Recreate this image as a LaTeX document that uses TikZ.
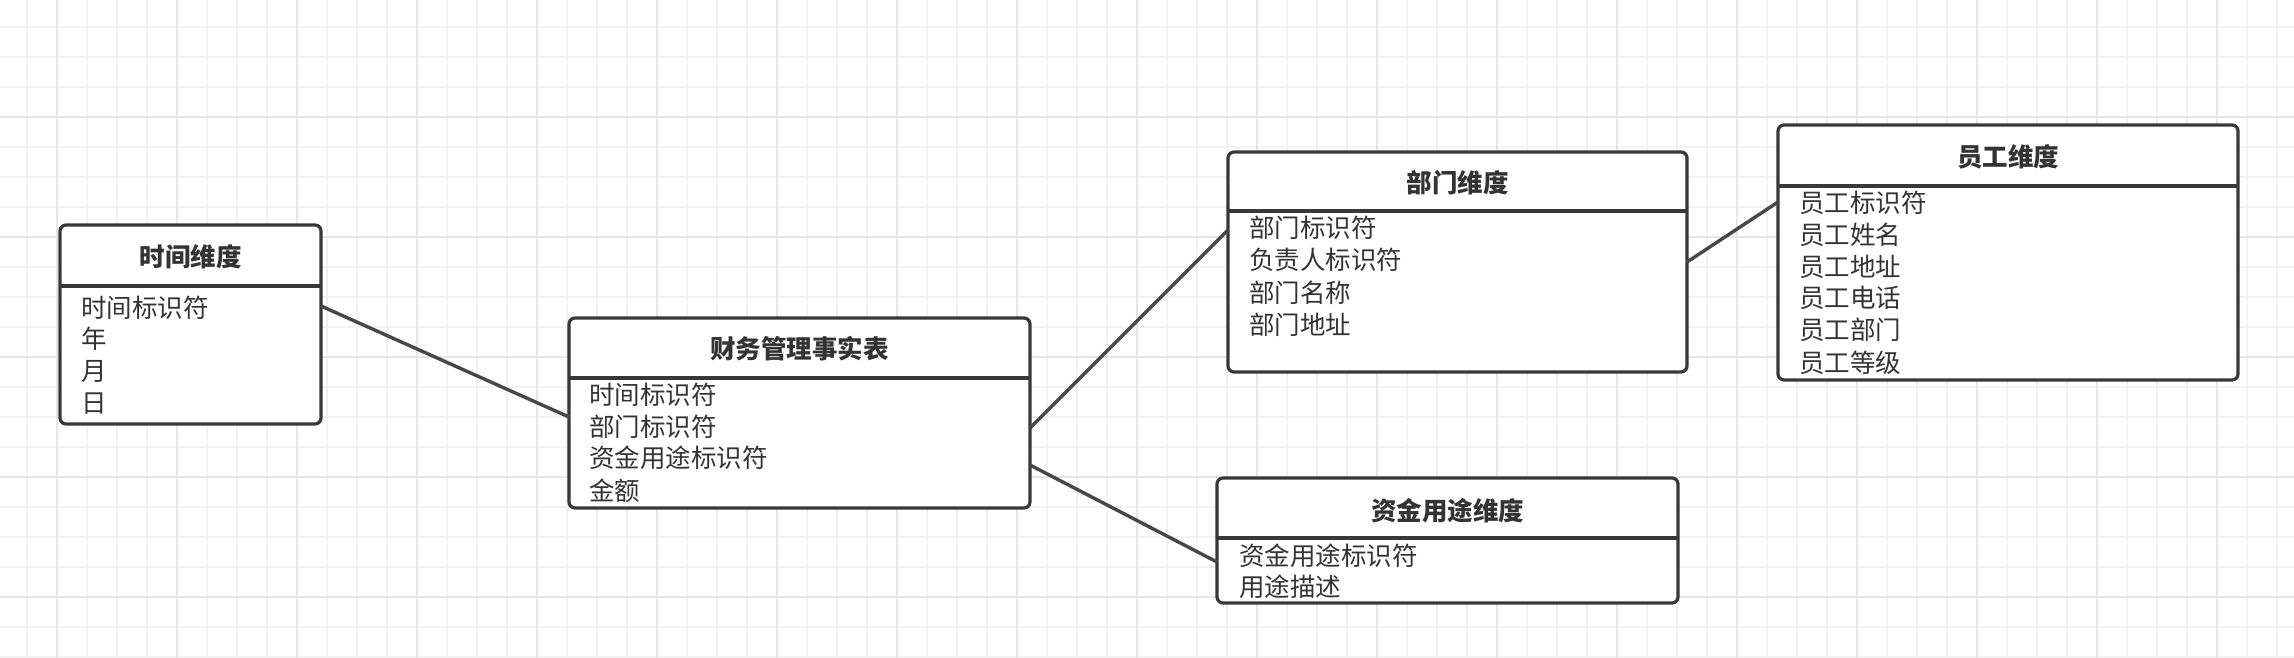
\documentclass[tikz,border=0pt]{standalone}
\usepackage{fontspec}
\setmainfont{Noto Sans CJK SC}
\definecolor{gminor}{HTML}{F2F2F2}
\definecolor{gmajor}{HTML}{E6E6E6}
\definecolor{boxc}{HTML}{383838}
\definecolor{linec}{HTML}{474747}
\definecolor{txtc}{HTML}{333333}
\begin{document}
\begin{tikzpicture}[x=1pt,y=-1pt,
  erbox/.style={draw=boxc, line width=3.2pt, fill=white, rounded corners=6pt, inner sep=0pt, outer sep=0pt, rectangle},
  sepline/.style={draw=boxc, line width=3.6pt},
  conn/.style={draw=linec, line width=3.4pt},
  titletext/.style={text=txtc, font=\fontsize{25.5}{31}\selectfont\bfseries, inner sep=0pt},
  itemtext/.style={text=txtc, font=\fontsize{25.5}{31}\selectfont, inner sep=0pt, anchor=base west}]
\fill[white] (0,0) rectangle (2294,658);
\useasboundingbox (0,0) rectangle (2294,658);
\foreach \i in {0,...,76} {\draw[gminor, line width=2pt] ({26.7+30*\i},0) -- ++(0,658);}
\foreach \i in {0,...,21} {\draw[gminor, line width=2pt] (0,{26.7+30*\i}) -- ++(2294,0);}
\foreach \i in {0,...,19} {\draw[gmajor, line width=2pt] ({56.7+120*\i},0) -- ++(0,658);}
\foreach \i in {0,...,4} {\draw[gmajor, line width=2pt] (0,{116.7+120*\i}) -- ++(2294,0);}

% boxes
\node[erbox, minimum width=261pt, minimum height=199pt] (time) at (190.5,324.5) {};
\node[erbox, minimum width=461pt, minimum height=190pt] (fact) at (799.5,413) {};
\node[erbox, minimum width=459pt, minimum height=220pt] (dept) at (1457.5,262) {};
\node[erbox, minimum width=460pt, minimum height=255pt] (emp) at (2008,252.5) {};
\node[erbox, minimum width=461pt, minimum height=125pt] (fund) at (1447.5,540.5) {};

% separators
\draw[sepline] ([yshift=-61pt]time.north west) -- ([yshift=-61pt]time.north east);
\draw[sepline] ([yshift=-60pt]fact.north west) -- ([yshift=-60pt]fact.north east);
\draw[sepline] ([yshift=-59pt]dept.north west) -- ([yshift=-59pt]dept.north east);
\draw[sepline] ([yshift=-61pt]emp.north west) -- ([yshift=-61pt]emp.north east);
\draw[sepline] ([yshift=-60pt]fund.north west) -- ([yshift=-60pt]fund.north east);

% titles
\node[titletext] (timeT) at (190.5,257) {时间维度};
\node[titletext] (factT) at (799.5,349) {财务管理事实表};
\node[titletext] (deptT) at (1457.5,183) {部门维度};
\node[titletext] (empT) at (2008,157) {员工维度};
\node[titletext] (fundT) at (1447.5,511) {资金用途维度};

% items
\node[itemtext] (time1) at (81,317.8) {时间标识符};
\node[itemtext] (time2) at (81,348.8) {年};
\node[itemtext] (time3) at (81,380.5) {月};
\node[itemtext] (time4) at (81,412.2) {日};

\node[itemtext] (fact1) at (589,404.5) {时间标识符};
\node[itemtext] (fact2) at (589,436.2) {部门标识符};
\node[itemtext] (fact3) at (589,467.8) {资金用途标识符};
\node[itemtext] (fact4) at (589,500.2) {金额};

\node[itemtext] (dept1) at (1249,237.8) {部门标识符};
\node[itemtext] (dept2) at (1249,269.5) {负责人标识符};
\node[itemtext] (dept3) at (1249,302.2) {部门名称};
\node[itemtext] (dept4) at (1249,334.5) {部门地址};

\node[itemtext] (emp1) at (1799,212.2) {员工标识符};
\node[itemtext] (emp2) at (1799,244.5) {员工姓名};
\node[itemtext] (emp3) at (1799,276.2) {员工地址};
\node[itemtext] (emp4) at (1799,307.8) {员工电话};
\node[itemtext] (emp5) at (1799,339.5) {员工部门};
\node[itemtext] (emp6) at (1799,372.2) {员工等级};

\node[itemtext] (fund1) at (1239,565.2) {资金用途标识符};
\node[itemtext] (fund2) at (1239,596.8) {用途描述};

% connectors
\draw[conn] ([yshift=18.5pt]time.east) -- ([yshift=-4pt]fact.west);
\draw[conn] ([yshift=-15pt]fact.east) -- ([yshift=32pt]dept.west);
\draw[conn] ([yshift=-52pt]fact.east) -- ([yshift=-21.5pt]fund.west);
\draw[conn] (dept.east) -- ([yshift=50.5pt]emp.west);
\end{tikzpicture}
\end{document}
